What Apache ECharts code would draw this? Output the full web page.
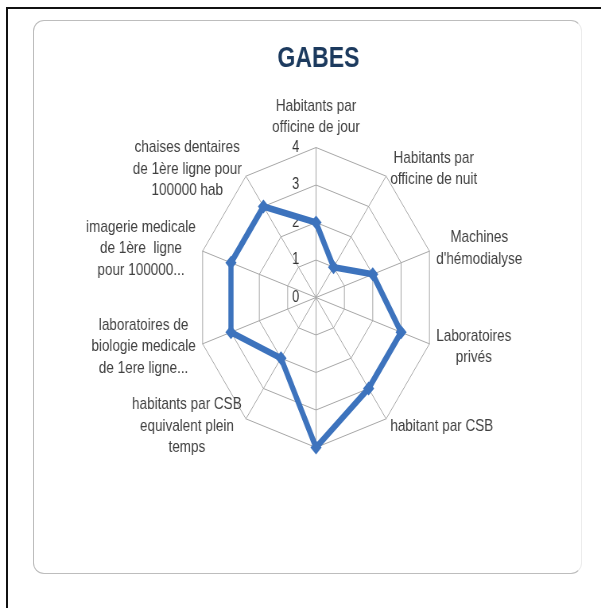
<!DOCTYPE html>
<html>
<head>
<meta charset="utf-8">
<title>GABES</title>
<script src="https://cdn.jsdelivr.net/npm/echarts@6/dist/echarts.min.js"></script>
<style>
  html, body { margin: 0; padding: 0; background: #fff; overflow: hidden; }
  #page { position: relative; width: 601px; height: 608px; overflow: hidden; }
  #frameTop { position: absolute; left: 6px; top: 7px; width: 595px; height: 2px; background: #111; }
  #frameLeft { position: absolute; left: 6px; top: 7px; width: 2px; height: 601px; background: #111; }
  #card { position: absolute; left: 33px; top: 20px; width: 547px; height: 552px;
          border: 1.5px solid #bdbdbd; border-right-color: #ececec; border-radius: 11px; }
  /* the source picture is squeezed horizontally, so the chart is drawn wider and scaled */
  #chart { position: absolute; left: 0; top: 0; width: 756px; height: 608px;
           transform: scaleX(0.795); transform-origin: 0 0; }
</style>
</head>
<body>
<div id="page">
  <div id="frameTop"></div>
  <div id="frameLeft"></div>
  <div id="card"></div>
  <div id="chart"></div>
</div>
<script>
const titleText = 'GABES'

// clockwise from the top
const indicatorNames = [
  'Habitants par\nofficine de jour',
  'Habitants par\nofficine de nuit',
  "Machines\nd'hémodialyse",
  'Laboratoires\nprivés',
  'habitant par CSB',
  '',
  'habitants par CSB\nequivalent plein\ntemps',
  'laboratoires de\nbiologie medicale\nde 1ere ligne...',
  'imagerie medicale\nde 1ère  ligne\npour 100000...',
  'chaises dentaires\nde 1ère ligne pour\n100000 hab',
]
const gabesValues = [2, 1, 2, 3, 3, 4, 2, 3, 3, 3]
const axisMin = 0
const axisMax = 4
const tickStep = 1

const font = '"Liberation Sans", Arial, sans-serif'
const textColor = '#404040'

// echarts lays radar axes out counter-clockwise, so walk the lists backwards after the first
const order = indicatorNames.map((_, i) => (i === 0 ? 0 : indicatorNames.length - i))

const chart = echarts.init(document.getElementById('chart'))

chart.setOption({
  animation: false,
  title: {
    text: titleText,
    left: 344,
    top: 39,
    textStyle: { fontFamily: font, fontSize: 29, fontWeight: 'bold', color: '#1c3a5e' },
  },
  radar: {
    center: [397.5, 297.5],
    radius: 150,
    startAngle: 90,
    splitNumber: (axisMax - axisMin) / tickStep,
    shape: 'polygon',
    nameGap: 9,
    axisName: {
      fontFamily: font,
      fontSize: 17,
      lineHeight: 21.5,
      color: textColor,
      formatter: (name) => name.split('\n').map((l) => '{c|' + l + '}').join('\n'),
      rich: {
        c: { align: 'center', fontFamily: font, fontSize: 17, lineHeight: 21.5, color: textColor },
      },
    },
    splitArea: { show: false },
    splitLine: { lineStyle: { color: '#a6a6a6', width: 1 } },
    axisLine: { lineStyle: { color: '#a6a6a6', width: 1 } },
    axisTick: { show: false },
    axisLabel: { show: true, fontFamily: font, fontSize: 16, color: '#333', margin: 21, padding: [6, 0, 0, 0] },
    indicator: order.map((k) => ({
      name: indicatorNames[k],
      min: axisMin,
      max: axisMax,
      axisLabel: { show: k === 0 },
    })),
  },
  series: [
    {
      type: 'radar',
      symbol: 'diamond',
      symbolSize: 14,
      lineStyle: { color: '#3d73bd', width: 6.5 },
      itemStyle: { color: '#3d73bd' },
      data: [{ value: order.map((k) => gabesValues[k]), name: titleText }],
    },
  ],
})
</script>
</body>
</html>
